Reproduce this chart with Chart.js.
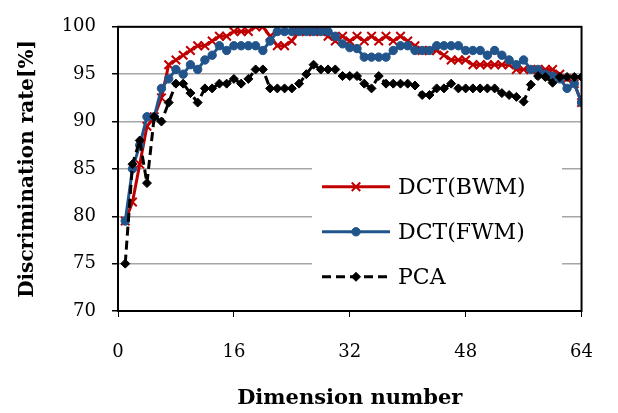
<!DOCTYPE html>
<html><head><meta charset="utf-8">
<script src="https://cdn.jsdelivr.net/npm/chart.js@4"></script>
<style>html,body{margin:0;padding:0;background:#fff;}#wrap{width:618px;height:413px;position:relative;}</style>
</head><body><div id="wrap"><canvas id="c" width="618" height="413"></canvas></div>
<script>
const dimensions = [1,2,3,4,5,6,7,8,9,10,11,12,13,14,15,16,17,18,19,20,21,22,23,24,25,26,27,28,29,30,31,32,
  33,34,35,36,37,38,39,40,41,42,43,44,45,46,47,48,49,50,51,52,53,54,55,56,57,58,59,60,61,62,63,64];
const dctBWM = [79.5,81.5,85.5,89.5,90.5,92.5,96.0,96.5,97.0,97.5,98.0,98.0,98.5,99.0,99.0,99.5,
  99.5,99.5,100,100,99.0,98.0,98.0,98.5,99.5,99.5,99.5,99.5,99.0,98.5,99.0,98.5,
  99.0,98.5,99.0,98.5,99.0,98.5,99.0,98.5,98.0,97.5,97.5,97.5,97.0,96.5,96.5,96.5,
  96.0,96.0,96.0,96.0,96.0,96.0,95.5,95.5,95.5,95.5,95.5,95.5,95.0,94.5,94.0,92.0];
const dctFWM = [79.5,85.0,87.5,90.5,90.5,93.5,94.5,95.5,95.0,96.0,95.5,96.5,97.0,98.0,97.5,98.0,
  98.0,98.0,98.0,97.5,98.5,99.5,99.5,99.5,99.5,99.5,99.5,99.5,99.5,99.0,98.2,97.8,
  97.7,96.8,96.8,96.8,96.8,97.5,98.0,98.0,97.5,97.5,97.5,98.0,98.0,98.0,98.0,97.5,
  97.5,97.5,97.0,97.5,97.0,96.5,96.0,96.5,95.5,95.5,95.0,94.8,94.5,93.5,94.0,92.0];
const pca = [75.0,85.5,88.0,83.5,90.5,90.0,92.0,94.0,94.0,93.0,92.0,93.5,93.5,94.0,94.0,94.5,
  94.0,94.5,95.5,95.5,93.5,93.5,93.5,93.5,94.0,95.0,96.0,95.5,95.5,95.5,94.8,94.8,
  94.8,94.0,93.5,94.8,94.0,94.0,94.0,94.0,93.8,92.8,92.8,93.5,93.5,94.0,93.5,93.5,
  93.5,93.5,93.5,93.5,93.0,92.8,92.6,92.1,93.9,94.8,94.7,94.1,94.7,94.7,94.7,94.7];
const seriesNames = ['DCT(BWM)','DCT(FWM)','PCA'];
const xTicks = [0,16,32,48,64];
const yTicks = [70,75,80,85,90,95,100];

const pts = arr => dimensions.map((d,i)=>({x:d,y:arr[i]}));
const SERIF = '"DejaVu Serif", "Liberation Serif", serif';

const legendPlugin = {
  id:'boxLegend',
  afterDatasetsDraw(chart){
    const ctx = chart.ctx, a = chart.chartArea;
    const x0 = a.left + 194, y0 = a.top + 137, w = 250, h = 140;
    ctx.save();
    ctx.fillStyle = '#fff';
    ctx.fillRect(x0, y0, w, h);
    chart.data.datasets.forEach((ds,i)=>{
      const cy = y0 + 23 + i*45;
      ctx.strokeStyle = ds.borderColor; ctx.lineWidth = ds.borderWidth;
      ctx.setLineDash(ds.borderDash || []);
      ctx.beginPath(); ctx.moveTo(x0+10, cy); ctx.lineTo(x0+78, cy); ctx.stroke();
      ctx.setLineDash([]);
      ctx.fillStyle = ds.pointBackgroundColor; ctx.strokeStyle = ds.pointBorderColor;
      ctx.lineWidth = ds.pointBorderWidth;
      Chart.helpers.drawPoint(ctx, {pointStyle: ds.pointStyle, radius: ds.pointRadius, borderWidth: ds.pointBorderWidth, rotation:0}, x0+44, cy);
      ctx.fillStyle = '#000';
      ctx.font = '22px ' + SERIF;
      ctx.textBaseline = 'middle'; ctx.textAlign = 'left';
      ctx.fillText(ds.label, x0+86, cy+1);
    });
    ctx.restore();
  }
};
const framePlugin = {
  id:'frame',
  afterDraw(chart){
    const ctx = chart.ctx, a = chart.chartArea;
    ctx.save(); ctx.strokeStyle = '#000'; ctx.lineWidth = 2;
    ctx.strokeRect(a.left, a.top, a.right-a.left, a.bottom-a.top);
    ctx.restore();
  }
};

new Chart(document.getElementById('c'), {
  type:'line',
  data:{ datasets:[
    { label: seriesNames[0], data: pts(dctBWM), borderColor:'#C00000', borderWidth:3,
      pointStyle:'crossRot', pointRadius:6, pointBorderWidth:2, pointBorderColor:'#C00000', pointBackgroundColor:'#C00000', order:2 },
    { label: seriesNames[1], data: pts(dctFWM), borderColor:'#22548C', borderWidth:3,
      pointStyle:'circle', pointRadius:4.2, pointBorderWidth:1, pointBorderColor:'#22548C', pointBackgroundColor:'#22548C', order:1 },
    { label: seriesNames[2], data: pts(pca), borderColor:'#000', borderWidth:3, borderDash:[9,5],
      pointStyle:'rectRot', pointRadius:4.5, pointBorderWidth:1, pointBorderColor:'#000', pointBackgroundColor:'#000', order:0 }
  ]},
  options:{
    responsive:false, animation:false, devicePixelRatio:1,
    layout:{ padding:{ top:25, right:17, left:0, bottom:0 } },
    plugins:{ legend:{display:false}, tooltip:{enabled:false} },
    elements:{ line:{ tension:0 } },
    scales:{
      x:{ type:'linear', min:0, max:64,
        afterBuildTicks: s => { s.ticks = xTicks.map(v=>({value:v})); },
        afterFit: s => { s.height = 102; },
        grid:{ drawOnChartArea:false, tickLength:6, tickColor:'#000', color:'#000' },
        border:{ color:'#000', width:2 },
        ticks:{ color:'#000', font:{ family:SERIF, size:18 }, padding:25, maxRotation:0 },
        title:{ display:true, text:'Dimension number', color:'#000', font:{ family:SERIF, size:21, weight:'bold' }, padding:{top:0,bottom:2} }
      },
      y:{ min:70, max:100,
        afterBuildTicks: s => { s.ticks = yTicks.map(v=>({value:v})); },
        afterFit: s => { s.width = 118; },
        grid:{ color:'#a6a6a6', lineWidth:1.5, tickLength:6, tickColor:'#000' },
        border:{ color:'#000', width:2 },
        ticks:{ color:'#000', font:{ family:SERIF, size:18 }, padding:16 },
        title:{ display:true, text:'Discrimination rate[%]', color:'#000', font:{ family:SERIF, size:20, weight:'bold' }, padding:{top:16,bottom:0} }
      }
    }
  },
  plugins:[legendPlugin, framePlugin]
});
</script></body></html>
